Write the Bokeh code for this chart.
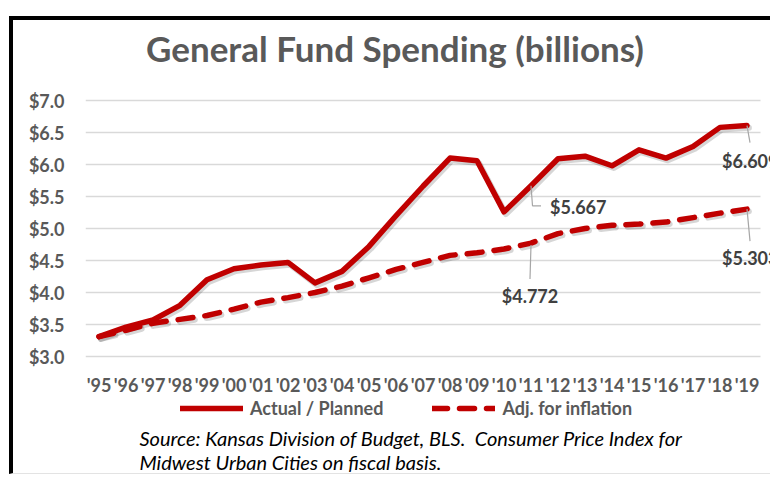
from bokeh.plotting import figure
from bokeh.models import (Label, Legend, LegendItem, FixedTicker, NumeralTickFormatter, Range1d)
from bokeh.transform import dodge
from bokeh.embed import file_html
from bokeh.resources import INLINE

# ---- data ----
years = ["'95", "'96", "'97", "'98", "'99", "'00", "'01", "'02", "'03", "'04",
         "'05", "'06", "'07", "'08", "'09", "'10", "'11", "'12", "'13", "'14",
         "'15", "'16", "'17", "'18", "'19"]
actual = [3.31, 3.46, 3.57, 3.80, 4.20, 4.37, 4.43, 4.47, 4.15, 4.33,
          4.72, 5.20, 5.66, 6.10, 6.06, 5.26, 5.667, 6.09, 6.13, 5.98,
          6.23, 6.10, 6.28, 6.58, 6.609]
inflation = [3.31, 3.41, 3.52, 3.58, 3.64, 3.74, 3.85, 3.92, 4.00, 4.10,
             4.23, 4.36, 4.47, 4.58, 4.62, 4.68, 4.772, 4.92, 5.00, 5.05,
             5.07, 5.10, 5.17, 5.24, 5.303]
y_ticks = [3.0, 3.5, 4.0, 4.5, 5.0, 5.5, 6.0, 6.5, 7.0]
callouts = [(16, "actual"), (16, "inflation"), (24, "actual"), (24, "inflation")]

x = list(range(len(years)))
RED = "#C00000"
GRAY_TXT = "#595959"
FONT = "Lato"
PX_X = 27.0    # pixels per category
PX_Y = 64.0    # pixels per $1
FRAME_W = 689  # frame width in px
TOP_PAD = 336  # px from frame top down to the $3.0 line
BOT_PAD = 122  # px from the $3.0 line down to the frame bottom

p = figure(width=761, height=458, output_backend="svg", toolbar_location=None,
           x_range=Range1d(-0.5, -0.5 + FRAME_W / PX_X),
           y_range=Range1d(y_ticks[0] - BOT_PAD / PX_Y, y_ticks[0] + TOP_PAD / PX_Y),
           min_border_left=72, min_border_right=0, min_border_top=0, min_border_bottom=0)
p.styles = {"margin-left": "9px", "margin-top": "16px",
            "border-left": "4px solid #000", "border-top": "4px solid #000",
            "border-bottom": "1px solid #e3e3e3"}
p.outline_line_color = None
p.background_fill_color = "white"
p.border_fill_color = "white"

# grid (drawn to the category extent)
p.xgrid.grid_line_color = None
p.ygrid.grid_line_color = None
p.segment(x0=-0.5, x1=len(years) - 0.5, y0=y_ticks, y1=y_ticks,
          line_color="#d9d9d9", line_width=1.5)

p.yaxis.ticker = FixedTicker(ticks=y_ticks)
p.xaxis.ticker = FixedTicker(ticks=x)
p.xaxis.fixed_location = y_ticks[0]
p.xaxis.major_label_overrides = {i: y for i, y in enumerate(years)}
p.yaxis.formatter = NumeralTickFormatter(format="$0.0")
for ax in (p.xaxis, p.yaxis):
    ax.axis_line_color = None
    ax.major_tick_line_color = None
    ax.minor_tick_line_color = None
    ax.major_tick_out = 0
    ax.major_tick_in = 0
    ax.major_label_text_font = FONT
    ax.major_label_text_font_style = "bold"
    ax.major_label_text_color = GRAY_TXT
p.yaxis.major_label_text_font_size = "18px"
p.yaxis.major_label_standoff = 21
p.xaxis.major_label_text_font_size = "18px"
p.xaxis.major_label_standoff = 17

src = dict(x=x, actual=actual, inflation=inflation)

# soft shadows (Excel style)
p.line(dodge("x", 0.07), dodge("actual", -0.035), source=src, line_color="#000000",
       line_alpha=0.16, line_width=6, line_join="round", line_cap="round")
p.line(dodge("x", 0.07), dodge("inflation", -0.035), source=src, line_color="#000000",
       line_alpha=0.16, line_width=6, line_dash="15 12", line_cap="round")

r_act = p.line("x", "actual", source=src, line_color=RED, line_width=5.5,
               line_join="round", line_cap="round")
r_inf = p.line("x", "inflation", source=src, line_color=RED, line_width=5.5,
               line_dash="15 12", line_cap="round")

# legend
legend = Legend(items=[LegendItem(label="Actual / Planned", renderers=[r_act]),
                       LegendItem(label="Adj. for inflation", renderers=[r_inf])],
                orientation="horizontal", location=(95, 59),
                glyph_width=63, glyph_height=18, label_standoff=7, spacing=49,
                padding=0, margin=0, border_line_color=None, background_fill_alpha=0,
                label_text_font=FONT, label_text_font_style="bold",
                label_text_font_size="18px", label_text_color=GRAY_TXT)
p.add_layout(legend, "center")

# title
p.add_layout(Label(x=-0.5, y=y_ticks[-1], x_offset=309.5, y_offset=53,
                   text="General Fund Spending (billions)",
                   text_align="center", text_baseline="middle", text_font=FONT,
                   text_font_style="bold", text_font_size="35px", text_color=GRAY_TXT))

# source note
for k, line in enumerate(["Source: Kansas Division of Budget, BLS.\u00a0 Consumer Price Index for",
                          "Midwest Urban Cities on fiscal basis."]):
    p.add_layout(Label(x=-0.5, y=y_ticks[0], x_offset=54, y_offset=-81 - 24 * k, text=line,
                       text_align="left", text_baseline="middle", text_font=FONT,
                       text_font_style="italic", text_font_size="20px", text_color="#000000"))

# data callouts with leader lines
series = {"actual": actual, "inflation": inflation}
layout = {  # leader points (px offsets), text offset (px), align
    (16, "actual"): ([(0, 0), (1.5, -20), (10, -20)], (19, -21), "left"),
    (16, "inflation"): ([(0, -2), (-1, -36)], (-1, -53), "center"),
    (24, "actual"): ([(0, 0), (3, -17)], (-25, -35), "left"),
    (24, "inflation"): ([(0, 0), (3, -32)], (-25, -49), "left"),
}
for (i, key) in callouts:
    v = series[key][i]
    pts, (tx, ty), align = layout[(i, key)]
    xs = [i + dx / PX_X for dx, dy in pts]
    ys = [v + dy / PX_Y for dx, dy in pts]
    p.line(xs, ys, line_color="#a6a6a6", line_width=1.2)
    p.add_layout(Label(x=i, y=v, x_offset=tx, y_offset=ty, text=f"${v:.3f}",
                       text_align=align, text_baseline="middle", text_font=FONT,
                       text_font_style="bold", text_font_size="18px", text_color="#404040"))

open("out.html", "w").write(file_html(p, INLINE))
